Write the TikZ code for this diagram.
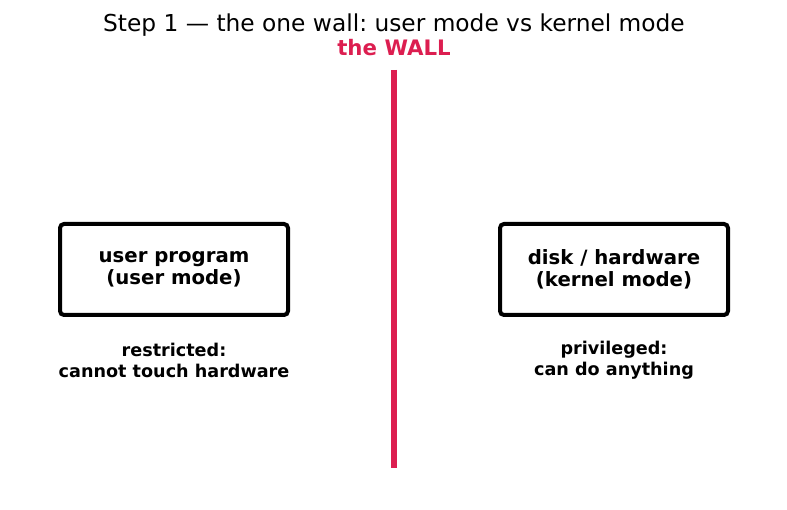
\documentclass[tikz,border=0pt]{standalone}
\usepackage{fontspec}
\setmainfont{DejaVu Sans}
\frenchspacing
\definecolor{wallred}{RGB}{220,30,80}
\tikzset{
  modebox/.style={draw=black, line width=4pt, rounded corners=4pt, minimum width=228pt, minimum height=91pt, align=center, font=\fontsize{19.7}{22}\selectfont\bfseries},
  modenote/.style={align=center, font=\fontsize{17.6}{21}\selectfont\bfseries}
}
\begin{document}
\begin{tikzpicture}[x=1pt, y=-1pt]
	  \useasboundingbox (0,0) rectangle (787,510);
	  \node (title) at (394,25) {\fontsize{23.3}{26}\selectfont Step 1 — the one wall: user mode vs kernel mode};
	  \node[text=wallred, font=\fontsize{21.3}{23}\selectfont\bfseries] (walllabel) at (394,48) {the WALL};
	  \coordinate (walltop) at (394,70);
	  \coordinate (wallbottom) at (394,468);
	  \draw[wallred, line width=6.5pt] (walltop) -- (wallbottom);
	  % user side
	  \node[modebox] (user) at (174,269.5) {user program\\(user mode)};
	  \node[modenote] (usernote) at (174,360) {restricted:\\cannot touch hardware};
	  % kernel side
	  \node[modebox] (kernel) at (614,269.5) {disk / hardware\\(kernel mode)};
	  \node[modenote] (kernelnote) at (614,360) {privileged:\\can do anything};
	\end{tikzpicture}
\end{document}
